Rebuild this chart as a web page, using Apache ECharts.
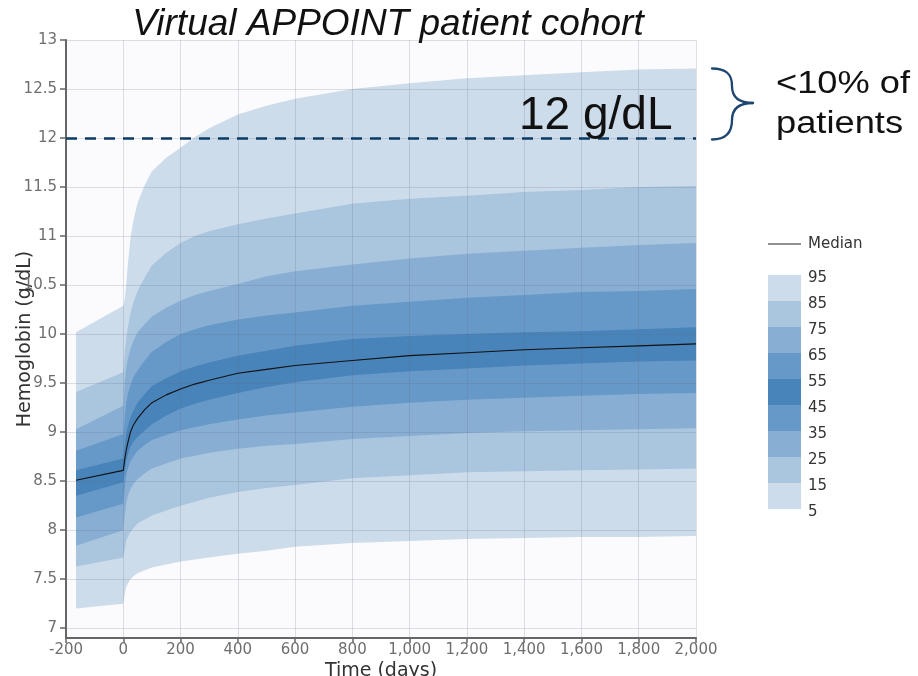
<!DOCTYPE html>
<html lang="en">
<head>
<meta charset="UTF-8">
<title>Virtual APPOINT patient cohort</title>
<script src="https://cdn.jsdelivr.net/npm/echarts@6/dist/echarts.min.js"></script>
<style>
  html, body { margin: 0; padding: 0; background: #fff; }
  #chart { width: 918px; height: 676px; }
</style>
</head>
<body>
<div id="chart"></div>
<script>
// time points (days) and hemoglobin percentiles (g/dL)
const days   = [-165, 0,    5,    10,   15,   25,   35,   50,   75,   100,  150,  200,  250,  300,  400,  500,  600,  800,  1000, 1200, 1400, 1600, 1800, 2000];
const p5     = [7.20, 7.25, 7.35, 7.42, 7.45, 7.50, 7.53, 7.56, 7.59, 7.62, 7.65, 7.68, 7.70, 7.72, 7.76, 7.79, 7.83, 7.87, 7.89, 7.91, 7.92, 7.93, 7.93, 7.94];
const p15    = [7.63, 7.72, 7.80, 7.89, 7.93, 7.98, 8.02, 8.07, 8.11, 8.15, 8.20, 8.25, 8.29, 8.33, 8.39, 8.43, 8.46, 8.53, 8.56, 8.59, 8.60, 8.61, 8.62, 8.63];
const p25    = [7.84, 8.00, 8.15, 8.27, 8.34, 8.42, 8.47, 8.52, 8.58, 8.63, 8.68, 8.73, 8.76, 8.79, 8.83, 8.86, 8.88, 8.93, 8.96, 8.99, 9.01, 9.02, 9.03, 9.04];
const p35    = [8.13, 8.27, 8.42, 8.55, 8.62, 8.70, 8.75, 8.81, 8.87, 8.92, 8.97, 9.02, 9.05, 9.08, 9.13, 9.17, 9.20, 9.26, 9.30, 9.33, 9.35, 9.37, 9.39, 9.40];
const p45    = [8.35, 8.49, 8.60, 8.70, 8.76, 8.85, 8.90, 8.95, 9.02, 9.08, 9.17, 9.24, 9.29, 9.33, 9.40, 9.46, 9.51, 9.58, 9.62, 9.65, 9.68, 9.70, 9.72, 9.73];
const median = [8.51, 8.61, 8.72, 8.81, 8.88, 9.00, 9.07, 9.14, 9.23, 9.30, 9.38, 9.44, 9.49, 9.53, 9.60, 9.64, 9.68, 9.73, 9.78, 9.81, 9.84, 9.86, 9.88, 9.90];
const p55    = [8.61, 8.73, 8.87, 8.98, 9.05, 9.15, 9.22, 9.30, 9.39, 9.47, 9.55, 9.62, 9.67, 9.71, 9.78, 9.83, 9.88, 9.95, 9.98, 10.00, 10.02, 10.03, 10.05, 10.07];
const p65    = [8.81, 8.98, 9.15, 9.30, 9.38, 9.48, 9.56, 9.63, 9.73, 9.82, 9.92, 10.00, 10.05, 10.09, 10.15, 10.19, 10.22, 10.29, 10.33, 10.37, 10.40, 10.43, 10.44, 10.46];
const p75    = [9.03, 9.27, 9.50, 9.65, 9.73, 9.85, 9.93, 10.02, 10.10, 10.18, 10.27, 10.34, 10.40, 10.44, 10.51, 10.59, 10.64, 10.71, 10.77, 10.82, 10.85, 10.88, 10.91, 10.93];
const p85    = [9.41, 9.61, 9.80, 9.95, 10.05, 10.21, 10.32, 10.44, 10.58, 10.70, 10.83, 10.93, 11.00, 11.05, 11.12, 11.18, 11.23, 11.33, 11.38, 11.41, 11.45, 11.47, 11.50, 11.51];
const p95    = [10.02, 10.29, 10.35, 10.50, 10.68, 10.98, 11.15, 11.34, 11.52, 11.66, 11.80, 11.90, 12.01, 12.10, 12.24, 12.33, 12.40, 12.50, 12.56, 12.61, 12.64, 12.67, 12.70, 12.71];

const yTicks = [7, 7.5, 8, 8.5, 9, 9.5, 10, 10.5, 11, 11.5, 12, 12.5, 13];
const xTicks = [-200, 0, 200, 400, 600, 800, 1000, 1200, 1400, 1600, 1800, 2000];
const legendLabels = ['95', '85', '75', '65', '55', '45', '35', '25', '15', '5'];
const threshold = 12;

const percentiles = [p5, p15, p25, p35, p45, p55, p65, p75, p85, p95];
// lighter towards the outer bands
const shades = ['#cddcea', '#aac5de', '#88afd3', '#6699c7', '#4883b9'];
const bandShade = [0, 1, 2, 3, 4, 3, 2, 1, 0];
const plotBg = '#fbfbfd';

const chart = echarts.init(document.getElementById('chart'));

// each percentile is filled down to the axis; drawing from p95 down to p5
// leaves every band (p[j-1]..p[j]) in the colour of series j
const series = [];
for (let j = percentiles.length - 1; j >= 0; j--) {
    const vals = percentiles[j];
    series.push({
        type: 'line',
        data: days.map((d, i) => [d, vals[i]]),
        symbol: 'none',
        lineStyle: { width: 0 },
        areaStyle: { color: j === 0 ? plotBg : shades[bandShade[j - 1]], opacity: 1, origin: 'start' },
        silent: true
    });
}

// grid lines go on top of the bands (as in the original), so they are markLines
const gridMarks = yTicks.map(v => ({ yAxis: v }))
    .concat(xTicks.slice(1).map(v => ({ xAxis: v })));
gridMarks.push({
    yAxis: threshold,
    lineStyle: { color: '#0d3a63', type: [11, 8], width: 2.5, opacity: 1 }
});

series.push({
    name: 'Median',
    type: 'line',
    data: days.map((d, i) => [d, median[i]]),
    symbol: 'none',
    lineStyle: { color: '#111', width: 1.1 },
    z: 5,
    markLine: {
        silent: true,
        symbol: 'none',
        label: { show: false },
        lineStyle: { color: 'rgba(100,100,130,0.2)', type: 'solid', width: 1 },
        data: gridMarks
    }
});

// legend on the right
const legendEls = [
    { type: 'line', shape: { x1: 768, y1: 244, x2: 801, y2: 244 }, style: { stroke: '#222', lineWidth: 1.2 } },
    { type: 'text', x: 808, y: 244, style: { text: 'Median', font: '15px "DejaVu Sans"', fill: '#333', verticalAlign: 'middle' } }
];
for (let k = 0; k < 9; k++) {
    legendEls.push({
        type: 'rect',
        shape: { x: 768, y: 275 + 26 * k, width: 33, height: 26 },
        style: { fill: shades[bandShade[8 - k]] }
    });
}
legendLabels.forEach((lab, k) => {
    legendEls.push({
        type: 'text', x: 808, y: 278 + 26 * k,
        style: { text: lab, font: '15px "DejaVu Sans"', fill: '#333', verticalAlign: 'middle' }
    });
});

// curly brace next to the top band
const braceStyle = { stroke: '#1d4670', lineWidth: 2.3, fill: null, lineCap: 'round' };
const brace = [
    [712, 68.5, 732, 86, 726, 68.5, 732, 74],
    [732, 86, 753, 103, 732, 97, 738, 103],
    [753, 103, 732, 120, 738, 103, 732, 109],
    [732, 120, 712, 139.5, 732, 132, 726, 139.5]
].map(c => ({
    type: 'bezierCurve',
    shape: { x1: c[0], y1: c[1], x2: c[2], y2: c[3], cpx1: c[4], cpy1: c[5], cpx2: c[6], cpy2: c[7] },
    style: braceStyle
}));

chart.setOption({
    animation: false,
    grid: {
        left: 66, right: 222, top: 40, bottom: 38,
        outerBoundsMode: 'none',
        show: true, backgroundColor: plotBg, borderWidth: 0
    },
    xAxis: {
        type: 'value', min: -200, max: 2000, interval: 200, z: 3,
        axisLine: { lineStyle: { color: '#666', width: 2 } },
        axisTick: { length: 5, lineStyle: { color: '#666', width: 1.5 } },
        axisLabel: {
            formatter: v => v.toLocaleString('en-US'),
            color: '#6e6e6e', fontSize: 15, fontFamily: 'DejaVu Sans', margin: 5
        },
        splitLine: { show: false },
        name: 'Time (days)', nameLocation: 'middle', nameGap: 24, nameMoveOverlap: false,
        nameTextStyle: { fontSize: 19, color: '#333', fontFamily: 'DejaVu Sans' }
    },
    yAxis: {
        type: 'value', min: 6.9, max: 13, z: 3,
        axisLine: { show: true, onZero: false, lineStyle: { color: '#666', width: 2 } },
        axisTick: { show: true, customValues: yTicks, length: 6, lineStyle: { color: '#666', width: 1.5 } },
        axisLabel: { customValues: yTicks, color: '#6e6e6e', fontSize: 15, fontFamily: 'DejaVu Sans', margin: 9 },
        splitLine: { show: false },
        name: 'Hemoglobin (g/dL)', nameLocation: 'middle', nameGap: 31, nameMoveOverlap: false,
        nameTextStyle: { fontSize: 19, color: '#333', fontFamily: 'DejaVu Sans' }
    },
    graphic: {
        elements: [
            {
                type: 'text', x: 388, y: 25,
                style: { text: 'Virtual APPOINT patient cohort', font: 'italic 37px "Liberation Sans"', fill: '#111', align: 'center', verticalAlign: 'middle' }
            },
            {
                type: 'text', x: 519, y: 116, z: 10,
                style: { text: '12 g/dL', font: '46px "Liberation Sans"', fill: '#111', verticalAlign: 'middle' }
            },
            {
                type: 'text', x: 776, y: 84, scaleX: 1.17,
                style: { text: '<10% of', font: '31px "Liberation Sans"', fill: '#111', verticalAlign: 'middle' }
            },
            {
                type: 'text', x: 776, y: 124, scaleX: 1.17,
                style: { text: 'patients', font: '31px "Liberation Sans"', fill: '#111', verticalAlign: 'middle' }
            }
        ].concat(brace, legendEls)
    },
    series: series
});
</script>
</body>
</html>
